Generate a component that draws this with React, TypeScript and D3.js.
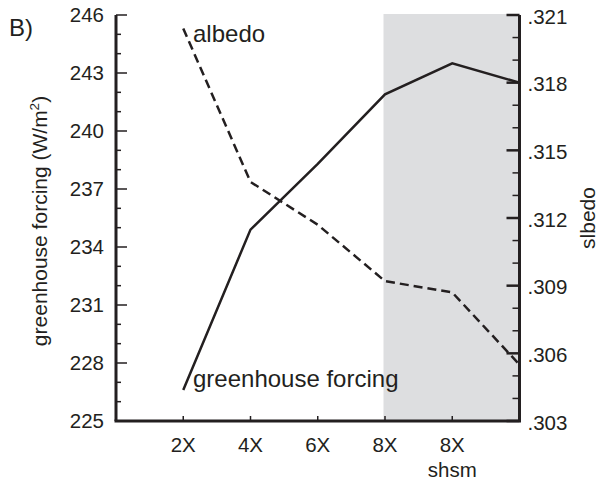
import React from "react";
import * as d3 from "d3";

const xLabels = ["2X", "4X", "6X", "8X", "8X"];
const xPositions = [1, 2, 3, 4, 5, 6];
const greenhouse = [226.6, 234.9, 238.3, 241.9, 243.5, 242.5];
const albedo = [0.3204, 0.3136, 0.3117, 0.3092, 0.3087, 0.3055];
const leftTicks = [225, 228, 231, 234, 237, 240, 243, 246];
const rightTicks = [0.303, 0.306, 0.309, 0.312, 0.315, 0.318, 0.321];
const shadeFrom = 4;

const W = 598;
const H = 483;
const L = 116;
const R = 519.5;
const T = 15;
const B = 421;
const FONT = "'Liberation Sans', Arial, Helvetica, sans-serif";
const INK = "#231f20";

export default function App() {
  const x = d3.scaleLinear().domain([0, 6]).range([L, R]);
  const yL = d3.scaleLinear().domain([225, 246]).range([B, T]);
  const yR = d3.scaleLinear().domain([0.303, 0.321]).range([B, T]);

  const ghLine = d3
    .line<number>()
    .x((_, i) => x(xPositions[i]))
    .y((d) => yL(d))(greenhouse) as string;
  const alLine = d3
    .line<number>()
    .x((_, i) => x(xPositions[i]))
    .y((d) => yR(d))(albedo) as string;

  const leftMinor = d3.range(225, 247, 1).filter((v) => (v - 225) % 3 !== 0);
  const rightMinor = d3
    .range(0, 19)
    .filter((i) => i % 3 !== 0)
    .map((i) => 0.303 + i * 0.001);

  const fmtR = (v: number) => d3.format(".3f")(v).replace(/^0/, "");

  return (
    <svg
      width={W}
      height={H}
      style={{ position: "absolute", left: 0, top: 0 }}
      fontFamily={FONT}
    >
      <rect x={0} y={0} width={W} height={H} fill="#fff" />
      <rect
        x={x(shadeFrom) - 1.5}
        y={T - 1}
        width={R - x(shadeFrom) + 1.5}
        height={B - T + 1}
        fill="#dddee0"
      />
      {/* data lines */}
      <path d={ghLine} fill="none" stroke={INK} strokeWidth={2.5} strokeLinejoin="miter" />
      <path d={alLine} fill="none" stroke={INK} strokeWidth={2.5} strokeDasharray="9,5" />

      {/* left axis */}
      <line x1={L} x2={L} y1={T} y2={B} stroke={INK} strokeWidth={3} />
      {leftTicks.map((v) => (
        <g key={"lt" + v}>
          <line x1={L} x2={L + 11} y1={yL(v)} y2={yL(v)} stroke={INK} strokeWidth={1.5} />
          <text x={L - 12} y={yL(v)} dy="0.36em" textAnchor="end" fontSize={20.5} fill={INK}>
            {v}
          </text>
        </g>
      ))}
      {leftMinor.map((v) => (
        <line key={"lm" + v} x1={L} x2={L + 5} y1={yL(v)} y2={yL(v)} stroke={INK} strokeWidth={1.5} />
      ))}

      {/* right axis */}
      <line x1={R} x2={R} y1={T} y2={B} stroke={INK} strokeWidth={3} />
      {rightTicks.map((v) => (
        <g key={"rt" + v}>
          <line x1={R - 13} x2={R} y1={yR(v)} y2={yR(v)} stroke={INK} strokeWidth={2.5} />
          <text x={R + 8} y={yR(v)} dy="0.42em" textAnchor="start" fontSize={20.5} fill={INK}>
            {fmtR(v)}
          </text>
        </g>
      ))}
      {rightMinor.map((v, i) => (
        <line key={"rm" + i} x1={R - 7} x2={R} y1={yR(v)} y2={yR(v)} stroke={INK} strokeWidth={1.5} />
      ))}

      {/* bottom axis */}
      <line x1={L - 1.5} x2={R + 1.5} y1={B} y2={B} stroke={INK} strokeWidth={3} />
      {xLabels.map((lab, i) => (
        <g key={"xt" + i}>
          <line x1={x(xPositions[i])} x2={x(xPositions[i])} y1={B} y2={B - 5} stroke={INK} strokeWidth={1.5} />
          <text x={x(xPositions[i])} y={451.5} textAnchor="middle" fontSize={20.5} fill={INK}>
            {lab}
          </text>
        </g>
      ))}
      <text x={x(5)} y={476.5} textAnchor="middle" fontSize={20.5} fill={INK}>
        shsm
      </text>

      {/* axis titles */}
      <text
        transform={`translate(47,221) rotate(-90)`}
        textAnchor="middle"
        fontSize={21}
        fill={INK}
      >
        greenhouse forcing (W/m<tspan fontSize={13.5} dy={-8}>2</tspan>
        <tspan dy={8}>)</tspan>
      </text>
      <text
        transform={`translate(595,218) rotate(-90)`}
        textAnchor="middle"
        fontSize={21}
        fill={INK}
      >
        slbedo
      </text>

      {/* annotations */}
      <text x={193} y={42} fontSize={24} fill={INK}>
        albedo
      </text>
      <text x={193} y={387} fontSize={24} fill={INK}>
        greenhouse forcing
      </text>
      <text x={9} y={36} fontSize={24} fill={INK}>
        B)
      </text>
    </svg>
  );
}
